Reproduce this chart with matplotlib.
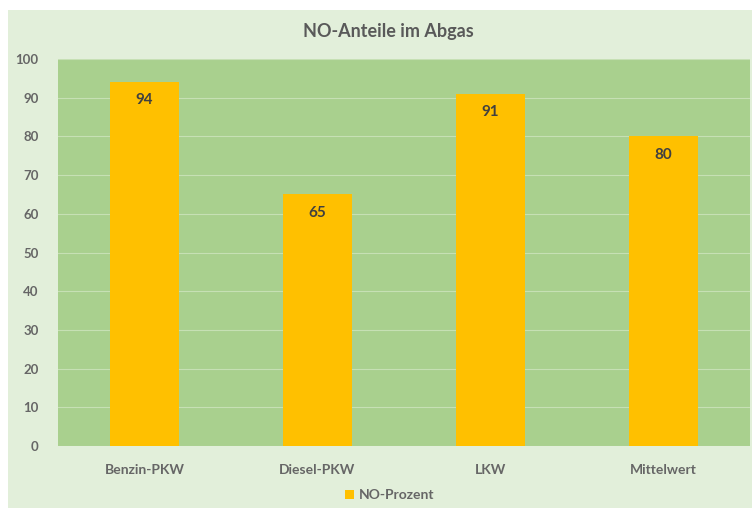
import matplotlib
matplotlib.use("Agg")
import matplotlib.pyplot as plt
from matplotlib.patches import Rectangle

categories = ["Benzin-PKW", "Diesel-PKW", "LKW", "Mittelwert"]
values = [94, 65, 91, 80]
yticks = [0, 10, 20, 30, 40, 50, 60, 70, 80, 90, 100]
title = "NO-Anteile im Abgas"
series_name = "NO-Prozent"

W, H = 752, 508
fig = plt.figure(figsize=(W / 100, H / 100), dpi=100, facecolor="white")
plt.rcParams['font.family'] = ['Lato', 'DejaVu Sans']

# outer chart area
bg = fig.add_axes([0, 0, 1, 1], zorder=-10)
bg.set_xlim(0, W)
bg.set_ylim(0, H)
bg.axis("off")
bg.add_patch(Rectangle((8, 0), W - 8, H - 10, facecolor="#e2efda", edgecolor="none"))

ax = fig.add_axes([58 / W, 62 / H, 692 / W, 387 / H])
ax.set_facecolor("#a9d08e")
x = list(range(len(categories)))
bars = ax.bar(x, values, width=0.4, color="#ffc000", zorder=3, label=series_name)
ax.set_xlim(-0.5, len(categories) - 0.5)
ax.set_ylim(0, 100)
ax.set_yticks(yticks)
ax.set_yticklabels([str(t) for t in yticks])
ax.set_xticks(x)
ax.set_xticklabels(categories)
ax.grid(axis="y", color="#c6e0b4", linewidth=0.8, zorder=1)
for s in ax.spines.values():
    s.set_visible(False)
ax.tick_params(length=0, colors="#666666", labelsize=9.5)
ax.tick_params(axis="x", pad=13, labelsize=10)
ax.tick_params(axis="y", pad=14)
for lbl in ax.get_xticklabels() + ax.get_yticklabels():
    lbl.set_fontweight("bold")

for xi, v in zip(x, values):
    ax.annotate(str(v), (xi, v), xytext=(0, -8), textcoords="offset points",
                ha="center", va="top", fontsize=11, fontweight="bold", color="#404040", zorder=4)

fig.text(388 / W, 1 - 31 / H, title, ha="center", va="center", fontsize=13,
         fontweight="bold", color="#595959")

leg = fig.legend(handles=[bars], labels=[series_name], loc="center",
                 bbox_to_anchor=(390 / W, 1 - 495 / H), frameon=False,
                 handlelength=0.6, handleheight=0.6, handletextpad=0.4,
                 prop={"size": 10, "weight": "bold"})
for t in leg.get_texts():
    t.set_color("#666666")

fig.savefig("out.png", dpi=100, facecolor="white")
